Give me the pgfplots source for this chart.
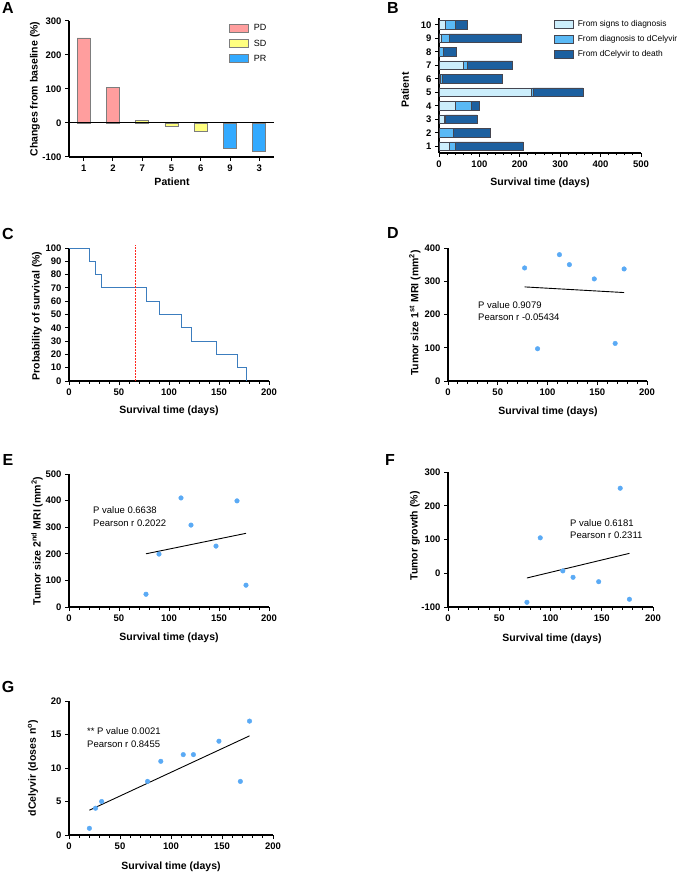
\documentclass[border=0pt]{standalone}
\usepackage{pgfplots}
\pgfplotsset{compat=1.18}
\usepackage{fontspec}
\setmainfont{Liberation Sans}
\definecolor{pdc}{RGB}{255,158,158}
\definecolor{sdc}{RGB}{255,255,128}
\definecolor{prc}{RGB}{51,170,255}
\definecolor{edgec}{RGB}{125,125,125}
\definecolor{lb}{RGB}{204,238,252}
\definecolor{mb}{RGB}{90,185,245}
\definecolor{db}{RGB}{28,96,160}
\definecolor{edgeb}{RGB}{70,70,80}
\definecolor{ptc}{RGB}{90,170,245}
\definecolor{kmc}{RGB}{60,125,190}
\definecolor{medc}{RGB}{255,40,30}
\pgfplotsset{
 panel/.style={scale only axis, anchor=south west, axis lines=left,
  axis line style={line width=1.3pt,-,black},
  every tick/.style={black,line width=1pt}, major tick length=4pt, minor tick length=2.5pt,
  tick align=outside,
  tick label style={font=\bfseries\fontsize{9.5}{10}\selectfont},
  /pgf/number format/assume math mode=true,
  legend cell align=left},
 boxlegend/.style={legend style={draw=none, fill=none, inner sep=0pt,
   font=\fontsize{9}{11}\selectfont, row sep=3.5pt,
   /tikz/every odd column/.append style={column sep=3pt}},
   legend image code/.code={\draw[##1] (0pt,-4pt) rectangle (19pt,4pt);}},
 scat/.style={only marks, mark=*, mark size=2.3pt, color=ptc},
 fit/.style={black, line width=0.9pt},
}
\newcommand{\lab}{\bfseries\fontsize{10.5}{12}\selectfont}
\newcommand{\ann}{\fontsize{9.5}{11}\selectfont}
\newcommand{\pl}{\bfseries\fontsize{16}{18}\selectfont}
\begin{document}
\begin{tikzpicture}
\path[use as bounding box] (0pt,0pt) rectangle (683pt,-874pt);
% ---------- A
\begin{axis}[panel, at={(69pt,-157pt)}, width=205pt, height=136pt,
 xmin=-0.5, xmax=6.5, ymin=-100, ymax=300, xtick={0,...,6}, xticklabels={1,2,7,5,6,9,3},
 ytick={-100,0,100,200,300}, ybar=0pt, bar width=13pt, boxlegend,
 legend style={at={(0.78,0.99)}, anchor=north west}]
\addplot[fill=pdc, draw=edgec, line width=0.8pt, bar shift=0pt] coordinates {(0,250)(1,105)};
\addplot[fill=sdc, draw=edgec, line width=0.8pt, bar shift=0pt] coordinates {(2,8)(3,-10)(4,-24)};
\addplot[fill=prc, draw=edgec, line width=0.8pt, bar shift=0pt] coordinates {(5,-75)(6,-85)};
\legend{PD,SD,PR}
\draw[line width=1pt] (axis cs:-0.5,0) -- (axis cs:6.5,0);
\end{axis}
% ---------- B
\begin{axis}[panel, at={(439pt,-153pt)}, width=202pt, height=135pt,
 xmin=0, xmax=500, ymin=0.5, ymax=10.5, ytick={1,...,10}, xtick={0,100,...,500},
 minor x tick num=4, xbar stacked, bar width=8.5pt, boxlegend,
 legend style={at={(0.57,1.0)}, anchor=north west, font=\fontsize{8.4}{10}\selectfont,
  /tikz/every odd column/.append style={column sep=2pt}}]
\addplot[fill=lb, draw=edgeb, line width=0.5pt] coordinates {(26.5,1)(1,2)(13,3)(40.5,4)(229,5)(4,6)(59.5,7)(1,8)(6.5,9)(16.5,10)};
\addplot[fill=mb, draw=edgeb, line width=0.5pt] coordinates {(14,1)(34,2)(3.5,3)(39.5,4)(4,5)(5,6)(10,7)(9.5,8)(18.5,9)(23,10)};
\addplot[fill=db, draw=edgeb, line width=0.5pt] coordinates {(168,1)(91,2)(77.5,3)(20.5,4)(123,5)(147,6)(113,7)(33,8)(178,9)(31.5,10)};
\legend{From signs to diagnosis, From diagnosis to dCelyvir, From dCelyvir to death}
\end{axis}
% ---------- C
\begin{axis}[panel, at={(69pt,-381pt)}, width=200pt, height=133pt,
 xmin=0, xmax=200, ymin=0, ymax=100, ytick={0,10,...,100}, xtick={0,50,...,200},
 minor x tick num=4, clip=false]
\addplot[const plot, color=kmc, line width=1pt] coordinates {(0,100)(20,90)(26,80)(32,70)(77,60)(90,50)(112,40)(122,30)(147,20)(168,10)(177,0)};
\addplot[color=medc, dash pattern=on 2pt off 1pt, line width=1pt] coordinates {(66,0)(66,102)};
\end{axis}
% ---------- D
\begin{axis}[panel, at={(448pt,-381pt)}, width=199pt, height=133pt,
 xmin=0, xmax=200, ymin=0, ymax=400, ytick={0,100,...,400}, xtick={0,50,...,200},
 minor x tick num=4, clip=false]
\addplot[scat] coordinates {(77,340)(90,97)(112,380)(122,350)(147,307)(168,113)(177,337)};
\addplot[fit] coordinates {(77,283)(177,266)};
\end{axis}
% ---------- E
\begin{axis}[panel, at={(69pt,-607pt)}, width=200pt, height=133pt,
 xmin=0, xmax=200, ymin=0, ymax=500, ytick={0,100,...,500}, xtick={0,50,...,200},
 minor x tick num=4, clip=false]
\addplot[scat] coordinates {(77,48)(90,199)(112,410)(122,308)(147,229)(168,399)(177,82)};
\addplot[fit] coordinates {(77,200)(177,277)};
\end{axis}
% ---------- F
\begin{axis}[panel, at={(448pt,-607pt)}, width=205pt, height=135pt,
 xmin=0, xmax=200, ymin=-100, ymax=300, ytick={-100,0,100,200,300}, xtick={0,50,...,200},
 minor x tick num=4, clip=false]
\addplot[scat] coordinates {(77,-86)(90,105)(112,7)(122,-12)(147,-25)(168,252)(177,-77)};
\addplot[fit] coordinates {(77,-14)(177,59)};
\end{axis}
% ---------- G
\begin{axis}[panel, at={(69pt,-835pt)}, width=204pt, height=134pt,
 xmin=0, xmax=200, ymin=0, ymax=20, ytick={0,5,...,20}, xtick={0,50,...,200},
 minor x tick num=4, clip=false]
\addplot[scat] coordinates {(20,1)(26,4)(32,5)(77,8)(90,11)(112,12)(122,12)(147,14)(168,8)(177,17)};
\addplot[fit] coordinates {(20,3.7)(177,14.8)};
\end{axis}
% ---------- labels
\node[font=\pl] at (8pt,-8pt) {A};
\node[font=\pl] at (393pt,-8pt) {B};
\node[font=\pl] at (8pt,-234pt) {C};
\node[font=\pl] at (393pt,-233pt) {D};
\node[font=\pl] at (8pt,-460pt) {E};
\node[font=\pl] at (390pt,-460pt) {F};
\node[font=\pl] at (8pt,-687pt) {G};
% axis labels
\node[font=\lab, rotate=90] at (35pt,-89pt) {Changes from baseline (\%)};
\node[font=\lab] at (172pt,-182pt) {Patient};
\node[font=\lab, rotate=90] at (405pt,-90pt) {Patient};
\node[font=\lab] at (540pt,-183pt) {Survival time (days)};
\node[font=\lab, rotate=90] at (37pt,-316pt) {Probability of survival (\%)};
\node[font=\lab] at (169pt,-411pt) {Survival time (days)};
\node[font=\lab, rotate=90] at (415pt,-313pt) {Tumor size 1\textsuperscript{st} MRI (mm\textsuperscript{2})};
\node[font=\lab] at (548pt,-412pt) {Survival time (days)};
\node[font=\lab, rotate=90] at (37pt,-541pt) {Tumor size 2\textsuperscript{nd} MRI (mm\textsuperscript{2})};
\node[font=\lab] at (169pt,-638pt) {Survival time (days)};
\node[font=\lab, rotate=90] at (415pt,-536pt) {Tumor growth (\%)};
\node[font=\lab] at (552pt,-639pt) {Survival time (days)};
\node[font=\lab, rotate=90] at (33pt,-768pt) {dCelyvir (doses n\textsuperscript{o})};
\node[font=\lab] at (171pt,-867pt) {Survival time (days)};
% annotations
\node[font=\ann, anchor=west, inner sep=0pt] at (478pt,-305pt) {P value 0.9079};
\node[font=\ann, anchor=west, inner sep=0pt] at (478pt,-317pt) {Pearson r -0.05434};
\node[font=\ann, anchor=west, inner sep=0pt] at (93pt,-510pt) {P value 0.6638};
\node[font=\ann, anchor=west, inner sep=0pt] at (93pt,-523pt) {Pearson r 0.2022};
\node[font=\ann, anchor=west, inner sep=0pt] at (570pt,-523pt) {P value 0.6181};
\node[font=\ann, anchor=west, inner sep=0pt] at (570pt,-535pt) {Pearson r 0.2311};
\node[font=\ann, anchor=west, inner sep=0pt] at (87pt,-731pt) {** P value 0.0021};
\node[font=\ann, anchor=west, inner sep=0pt] at (87pt,-744pt) {Pearson r 0.8455};
\end{tikzpicture}
\end{document}
